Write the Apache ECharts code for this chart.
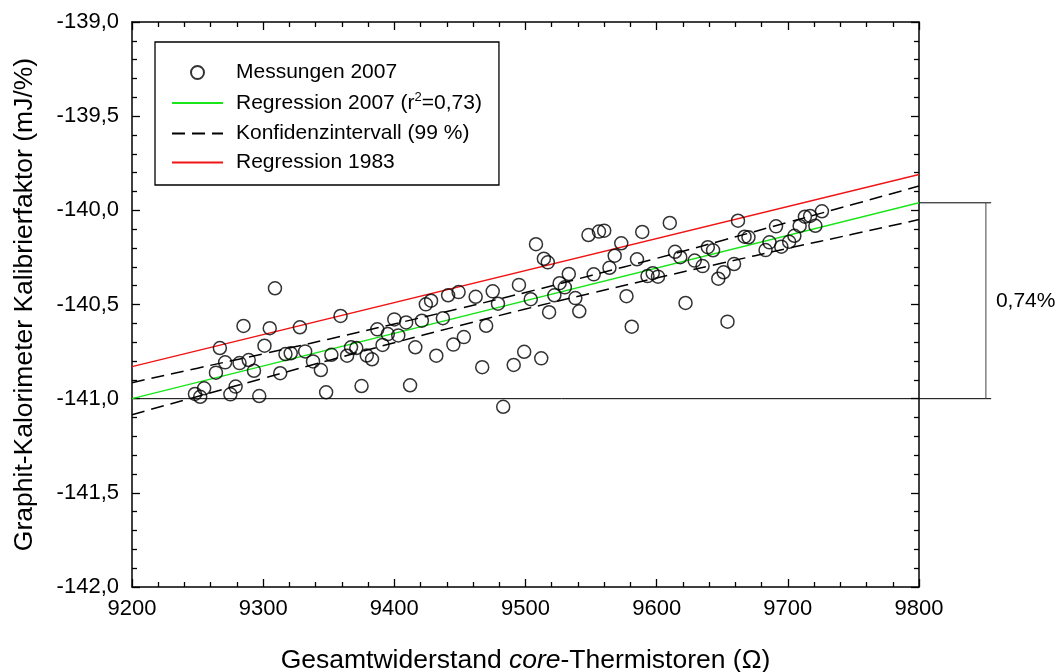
<!DOCTYPE html>
<html>
<head>
<meta charset="utf-8">
<script src="https://cdn.jsdelivr.net/npm/echarts@6/dist/echarts.min.js"></script>
<style>
  html, body { margin: 0; padding: 0; background: #fff; }
  #chart { width: 1060px; height: 672px; }
</style>
</head>
<body>
<div id="chart"></div>
<script>
const FONT = '"Liberation Sans", Arial, Helvetica, sans-serif';

// Messungen 2007: Gesamtwiderstand der core-Thermistoren (Ω) und Kalibrierfaktor (mJ/%)
const resistance = [
  9248, 9252, 9255, 9264, 9267, 9271, 9275, 9279, 9282, 9285,
  9289, 9293, 9297, 9301, 9305, 9309, 9313, 9317, 9321, 9328,
  9332, 9338, 9344, 9348, 9352, 9359, 9364, 9367, 9371, 9375,
  9379, 9383, 9387, 9391, 9395, 9400, 9403, 9409, 9412, 9416,
  9421, 9424, 9428, 9432, 9437, 9441, 9445, 9449, 9453, 9462,
  9467, 9470, 9475, 9479, 9483, 9491, 9495, 9499, 9504, 9508,
  9512, 9514, 9517, 9518, 9522, 9526, 9530, 9533, 9538, 9541,
  9548, 9552, 9556, 9560, 9564, 9568, 9573, 9577, 9581, 9585,
  9589, 9593, 9597, 9601, 9610, 9614, 9618, 9622, 9629, 9635,
  9639, 9643, 9647, 9651, 9654, 9659, 9662, 9667, 9670, 9683,
  9686, 9691, 9695, 9701, 9705, 9709, 9713, 9717, 9721, 9726
];
const calibration = [
  -140.975, -140.990, -140.945, -140.862, -140.731, -140.807, -140.977, -140.936, -140.811, -140.614,
  -140.795, -140.852, -140.986, -140.719, -140.626, -140.414, -140.865, -140.763, -140.759, -140.621,
  -140.749, -140.802, -140.848, -140.966, -140.767, -140.561, -140.772, -140.727, -140.731, -140.933,
  -140.771, -140.791, -140.632, -140.715, -140.657, -140.579, -140.664, -140.595, -140.929, -140.727,
  -140.586, -140.499, -140.480, -140.772, -140.573, -140.451, -140.713, -140.434, -140.673, -140.459,
  -140.833, -140.613, -140.430, -140.496, -141.043, -140.821, -140.396, -140.751, -140.472, -140.180,
  -140.786, -140.257, -140.276, -140.541, -140.451, -140.387, -140.409, -140.338, -140.466, -140.536,
  -140.131, -140.340, -140.113, -140.108, -140.305, -140.241, -140.175, -140.456, -140.618, -140.260,
  -140.115, -140.349, -140.334, -140.352, -140.067, -140.220, -140.249, -140.492, -140.267, -140.296,
  -140.196, -140.212, -140.363, -140.329, -140.591, -140.285, -140.055, -140.140, -140.143, -140.211,
  -140.170, -140.085, -140.193, -140.167, -140.135, -140.083, -140.034, -140.030, -140.082, -140.005
];

// Regressionsgeraden (Endpunkte)
const lineX = [9200, 9800];
const regression2007 = [-141.00, -139.96];
const regression1983 = [-140.83, -139.81];

// 99 %-Konfidenzband der Regression 2007
const bandX = [9200, 9250, 9300, 9350, 9400, 9450, 9500, 9550, 9600, 9650, 9700, 9750, 9800];
const bandUpper = [-140.915, -140.838, -140.762, -140.684, -140.603, -140.521, -140.436, -140.346, -140.255, -140.160, -140.064, -139.968, -139.871];
const bandLower = [-141.085, -140.988, -140.892, -140.797, -140.703, -140.612, -140.524, -140.440, -140.359, -140.280, -140.202, -140.126, -140.049];

// Spanne der Regression 2007 über den Messbereich
const spanLevels = [-141.00, -139.96];
const spanX = 9851;
const spanEnd = 9855;
const spanLabel = '0,74%';

// Achsen
const xRange = [9200, 9800];
const xStep = 100;
const yRange = [-142.0, -139.0];
const yStep = 0.5;

const pairs = (xs, ys) => xs.map((x, i) => [x, ys[i]]);

const GREEN = '#19e619';
const RED = '#f01414';

const axisLine = { show: true, onZero: false, lineStyle: { color: '#000', width: 1.5 } };
const axisTick = { show: true, inside: true, length: 8, lineStyle: { color: '#000', width: 1.3 } };
const minorTick = { show: true, splitNumber: 5, length: 5, lineStyle: { color: '#000', width: 1.3 } };

// Legendeneinträge der Linien ohne Punktsymbol
const hiddenDot = { opacity: 0, color: 'rgba(0,0,0,0)', borderWidth: 0 };

const chart = echarts.init(document.getElementById('chart'), null, { renderer: 'canvas' });

const option = {
  animation: false,
  backgroundColor: '#fff',
  grid: { left: 132, right: 141, top: 22, bottom: 85, containLabel: false, outerBoundsMode: 'none' },
  xAxis: [
    {
      type: 'value', min: xRange[0], max: xRange[1], interval: xStep, position: 'bottom',
      axisLine, axisTick, minorTick, splitLine: { show: false },
      axisLabel: { color: '#000', fontSize: 22, fontFamily: FONT, margin: 11, formatter: v => String(v) },
      name: '{n|Gesamtwiderstand }{i|core}{n|-Thermistoren (Ω)}',
      nameLocation: 'middle', nameGap: 60,
      nameTextStyle: {
        rich: {
          n: { fontSize: 26.5, fontFamily: FONT, color: '#000' },
          i: { fontSize: 26.5, fontFamily: FONT, color: '#000', fontStyle: 'italic' }
        }
      }
    },
    {
      type: 'value', min: xRange[0], max: xRange[1], interval: xStep, position: 'top',
      axisLine, axisTick, minorTick, splitLine: { show: false }, axisLabel: { show: false }
    }
  ],
  yAxis: [
    {
      type: 'value', min: yRange[0], max: yRange[1], interval: yStep, position: 'left',
      axisLine, axisTick, minorTick, splitLine: { show: false },
      axisLabel: {
        color: '#000', fontSize: 22, fontFamily: FONT, margin: 13,
        formatter: v => v.toFixed(1).replace('.', ',')
      },
      name: 'Graphit-Kalorimeter Kalibrierfaktor (mJ/%)',
      nameLocation: 'middle', nameGap: 94,
      nameTextStyle: { fontSize: 26.5, fontFamily: FONT, color: '#000' }
    },
    {
      type: 'value', min: yRange[0], max: yRange[1], interval: yStep, position: 'right',
      axisLine, axisTick, minorTick, splitLine: { show: false }, axisLabel: { show: false }
    }
  ],
  legend: {
    orient: 'vertical', left: 155, top: 42,
    padding: [20, 17, 12, 16],
    borderColor: '#000', borderWidth: 1.3, backgroundColor: '#fff',
    itemWidth: 51, itemHeight: 13, itemGap: 8,
    selectedMode: false,
    data: [
      { name: 'Messungen 2007' },
      { name: 'Regression 2007', itemStyle: hiddenDot },
      { name: 'Konfidenzintervall (99 %)', itemStyle: hiddenDot },
      { name: 'Regression 1983', itemStyle: hiddenDot }
    ],
    formatter: name => name === 'Regression 2007'
      ? '{t|Regression 2007 (r}{s|2}{t|=0,73)}'
      : '{t|' + name + '}',
    textStyle: {
      color: '#000', fontFamily: FONT, fontSize: 21, lineHeight: 20, padding: [0, 0, 0, 8],
      rich: {
        t: { color: '#000', fontFamily: FONT, fontSize: 21, lineHeight: 20 },
        s: { color: '#000', fontFamily: FONT, fontSize: 13, lineHeight: 20, padding: [0, 0, 11, 0] }
      }
    }
  },
  series: [
    {
      name: 'Regression 2007', type: 'line', symbol: 'none', z: 3,
      data: pairs(lineX, regression2007),
      lineStyle: { color: GREEN, width: 1.4 }, itemStyle: { color: GREEN }
    },
    {
      name: 'Konfidenzintervall (99 %)', type: 'line', symbol: 'none', smooth: true, z: 3,
      data: pairs(bandX, bandUpper),
      lineStyle: { color: '#000', width: 1.5, type: [13, 7] }, itemStyle: { color: '#000' }
    },
    {
      name: 'Konfidenzintervall (99 %)', type: 'line', symbol: 'none', smooth: true, z: 3,
      data: pairs(bandX, bandLower),
      lineStyle: { color: '#000', width: 1.5, type: [13, 7] }, itemStyle: { color: '#000' }
    },
    {
      name: 'Regression 1983', type: 'line', symbol: 'none', z: 3,
      data: pairs(lineX, regression1983),
      lineStyle: { color: RED, width: 1.4 }, itemStyle: { color: RED }
    },
    {
      name: 'Messungen 2007', type: 'scatter', z: 5,
      symbol: 'circle', symbolSize: 13,
      data: pairs(resistance, calibration),
      itemStyle: { color: 'rgba(0,0,0,0)', borderColor: '#000', borderWidth: 1.5 }
    }
  ]
};

chart.setOption(option);

// Spannenmarkierung rechts neben dem Diagramm, über die Achsenskalen platziert
const px = (x, y) => chart.convertToPixel({ gridIndex: 0 }, [x, y]);
const pBaseStart = px(xRange[0], spanLevels[0]);
const pBaseEnd = px(spanEnd, spanLevels[0]);
const pTopStart = px(xRange[1], spanLevels[1]);
const pTopEnd = px(spanEnd, spanLevels[1]);
const pVertTop = px(spanX, spanLevels[1]);
const pVertBottom = px(spanX, spanLevels[0]);
const pLabel = px(spanX, (spanLevels[0] + spanLevels[1]) / 2);

chart.setOption({
  graphic: [
    {
      type: 'line', z: 2, silent: true,
      shape: { x1: pBaseStart[0], y1: pBaseStart[1], x2: pBaseEnd[0], y2: pBaseEnd[1] },
      style: { stroke: '#000', lineWidth: 1 }
    },
    {
      type: 'line', z: 2, silent: true,
      shape: { x1: pTopStart[0], y1: pTopStart[1], x2: pTopEnd[0], y2: pTopEnd[1] },
      style: { stroke: '#000', lineWidth: 1 }
    },
    {
      type: 'line', z: 2, silent: true,
      shape: { x1: pVertTop[0], y1: pVertTop[1], x2: pVertBottom[0], y2: pVertBottom[1] },
      style: { stroke: '#444', lineWidth: 1 }
    },
    {
      type: 'text', x: pLabel[0] + 10, y: pLabel[1], silent: true,
      style: { text: spanLabel, fill: '#000', font: '21px ' + FONT, verticalAlign: 'middle' }
    }
  ]
});
</script>
</body>
</html>
